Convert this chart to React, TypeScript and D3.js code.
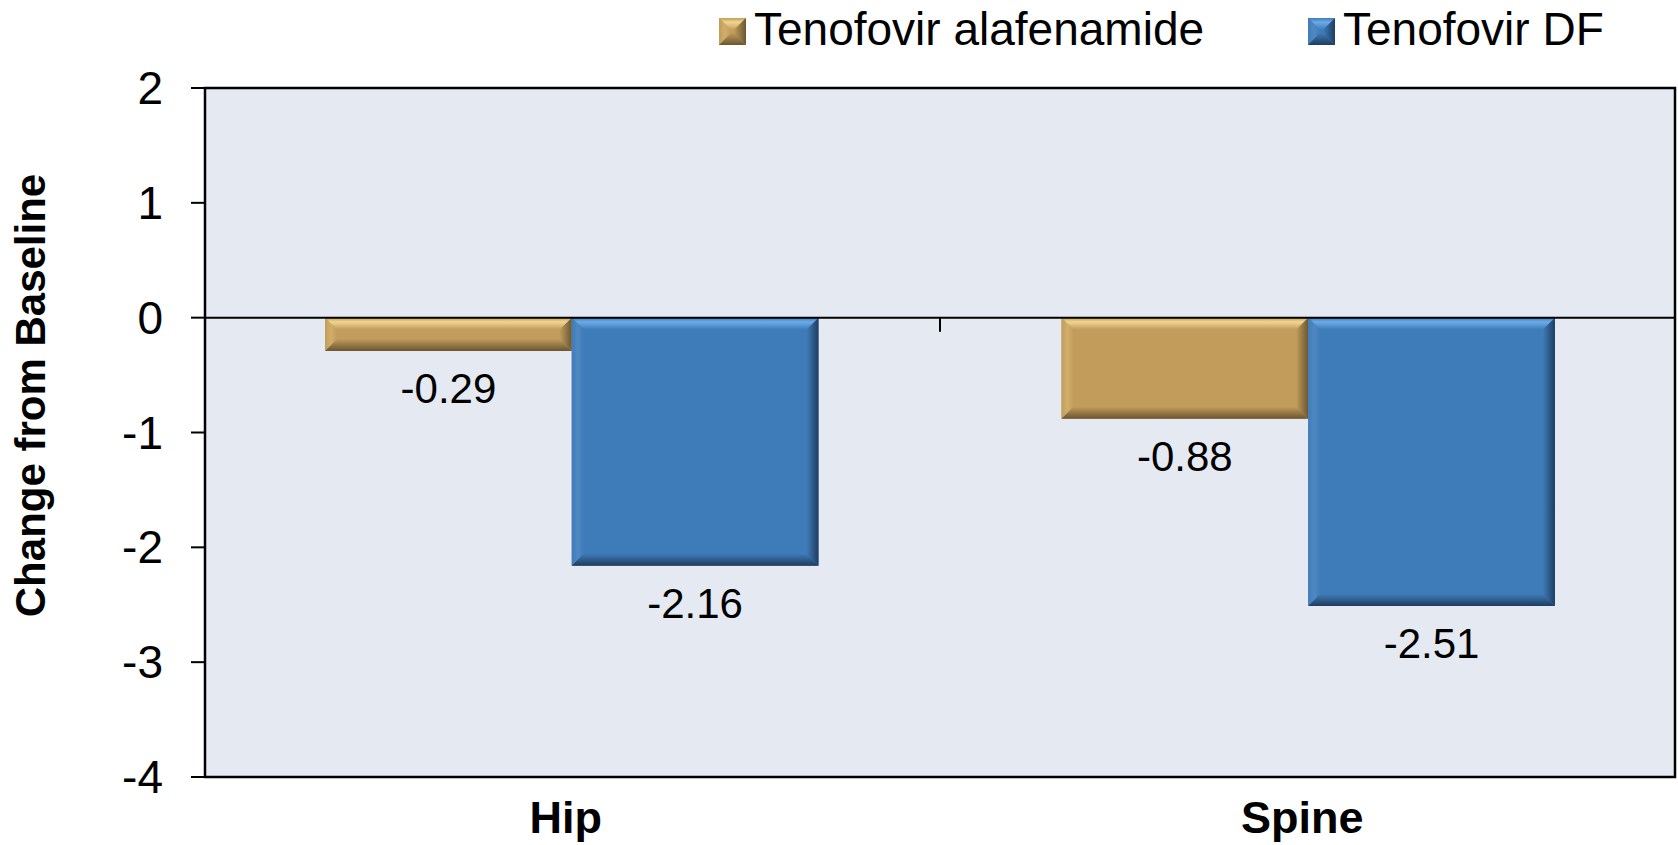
import { useEffect } from "react";
import * as d3 from "d3";

const categories = ["Hip", "Spine"];
const seriesNames = ["Tenofovir alafenamide", "Tenofovir DF"];
const tafValues = [-0.29, -0.88];
const tdfValues = [-2.16, -2.51];
const yTicks = [2, 1, 0, -1, -2, -3, -4];

const W = 1678;
const H = 845;
const M = { top: 88, right: 3, bottom: 68, left: 205 };
const FONT = "'Liberation Sans', Arial, Helvetica, sans-serif";

// main / light / dark tone for each series
const palettes = [
  { main: "#C19C5B", light: "#F3D590", dark: "#6B5632", side: "#D2AE6C" },
  { main: "#3E7CB9", light: "#6DAAE8", dark: "#1F3D60", side: "#5088C2" },
];

function Bevel({
  x,
  y,
  w,
  h,
  idx,
}: {
  x: number;
  y: number;
  w: number;
  h: number;
  idx: number;
}) {
  const p = palettes[idx];
  const b = Math.min(12, h / 2, w / 2);
  const pts = (a: number[][]) => a.map((q) => q.join(",")).join(" ");
  return (
    <g>
      <rect x={x} y={y} width={w} height={h} fill={p.main} />
      <polygon
        points={pts([[x, y], [x + w, y], [x + w - b, y + b], [x + b, y + b]])}
        fill={`url(#top${idx})`}
      />
      <polygon
        points={pts([[x, y], [x + b, y + b], [x + b, y + h - b], [x, y + h]])}
        fill={`url(#left${idx})`}
      />
      <polygon
        points={pts([[x + w, y], [x + w - b, y + b], [x + w - b, y + h - b], [x + w, y + h]])}
        fill={`url(#right${idx})`}
      />
      <polygon
        points={pts([[x, y + h], [x + w, y + h], [x + w - b, y + h - b], [x + b, y + h - b]])}
        fill={`url(#bottom${idx})`}
      />
    </g>
  );
}

export default function App() {
  useEffect(() => {
    document.body.style.margin = "0";
    document.body.style.overflow = "hidden";
  }, []);

  const x0 = d3
    .scaleBand<string>()
    .domain(categories)
    .range([M.left, W - M.right])
    .paddingInner(0.33)
    .paddingOuter(0.163);
  const x1 = d3
    .scaleBand<string>()
    .domain(seriesNames)
    .range([0, x0.bandwidth()]);
  const y = d3.scaleLinear().domain([-4, 2]).range([H - M.bottom, M.top]);

  // category-axis ticks sit midway between the groups
  const boundaries = d3
    .range(1, categories.length)
    .map((i) => M.left + (i * (W - M.right - M.left)) / categories.length);
  const values = [tafValues, tdfValues];

  return (
    <svg width={W} height={H} style={{ display: "block", background: "#fff" }} fontFamily={FONT}>
      <defs>
        {palettes.map((p, i) => (
          <g key={i}>
            <linearGradient id={`top${i}`} x1="0" y1="0" x2="0" y2="1">
              <stop offset="0" stopColor={p.main} />
              <stop offset="0.35" stopColor={p.light} />
              <stop offset="1" stopColor={p.main} />
            </linearGradient>
            <linearGradient id={`left${i}`} x1="0" y1="0" x2="1" y2="0">
              <stop offset="0" stopColor={p.main} />
              <stop offset="0.5" stopColor={p.side} />
              <stop offset="1" stopColor={p.main} />
            </linearGradient>
            <linearGradient id={`right${i}`} x1="0" y1="0" x2="1" y2="0">
              <stop offset="0" stopColor={p.main} />
              <stop offset="1" stopColor={p.dark} />
            </linearGradient>
            <linearGradient id={`bottom${i}`} x1="0" y1="0" x2="0" y2="1">
              <stop offset="0" stopColor={p.main} />
              <stop offset="1" stopColor={p.dark} />
            </linearGradient>
          </g>
        ))}
      </defs>

      {/* plot area */}
      <rect
        x={M.left}
        y={M.top}
        width={W - M.right - M.left}
        height={H - M.bottom - M.top}
        fill="#E5E9F1"
      />

      {/* bars */}
      {categories.map((c, ci) =>
        seriesNames.map((s, si) => {
          const v = values[si][ci];
          const bx = (x0(c) ?? 0) + (x1(s) ?? 0);
          const by = y(Math.max(0, v));
          const bh = Math.abs(y(v) - y(0));
          return (
            <g key={c + s}>
              <Bevel x={bx} y={by} w={x1.bandwidth()} h={bh} idx={si} />
              <text
                x={bx + x1.bandwidth() / 2}
                y={y(v) + 52}
                textAnchor="middle"
                fontSize={42}
                fill="#000"
              >
                {v.toFixed(2)}
              </text>
            </g>
          );
        })
      )}

      {/* zero line and category ticks */}
      <line x1={M.left} x2={W - M.right} y1={y(0)} y2={y(0)} stroke="#000" strokeWidth={2} />
      {boundaries.map((bx) => (
        <line key={bx} x1={bx} x2={bx} y1={y(0)} y2={y(0) + 14} stroke="#000" strokeWidth={2} />
      ))}

      {/* frame */}
      <rect
        x={M.left}
        y={M.top}
        width={W - M.right - M.left}
        height={H - M.bottom - M.top}
        fill="none"
        stroke="#000"
        strokeWidth={2.5}
      />

      {/* y axis */}
      {yTicks.map((t) => (
        <g key={t}>
          <line x1={M.left - 14} x2={M.left} y1={y(t)} y2={y(t)} stroke="#000" strokeWidth={2} />
          <text x={163} y={y(t) + 16} textAnchor="end" fontSize={46} fill="#000">
            {t}
          </text>
        </g>
      ))}
      <text
        transform={`translate(45, ${(M.top + H - M.bottom) / 2 - 37}) rotate(-90)`}
        textAnchor="middle"
        fontSize={42}
        fontWeight="bold"
        fill="#000"
      >
        Change from Baseline
      </text>

      {/* category labels */}
      {categories.map((c) => (
        <text
          key={c}
          x={(x0(c) ?? 0) + x0.bandwidth() / 2 - 6}
          y={833}
          textAnchor="middle"
          fontSize={45}
          fontWeight="bold"
          fill="#000"
        >
          {c}
        </text>
      ))}

      {/* legend */}
      {seriesNames.map((s, i) => {
        const lx = [719, 1308][i];
        return (
          <g key={s}>
            <Bevel x={lx} y={18} w={27} h={27} idx={i} />
            <text x={lx + 35} y={45} fontSize={46} fill="#000">
              {s}
            </text>
          </g>
        );
      })}
    </svg>
  );
}
